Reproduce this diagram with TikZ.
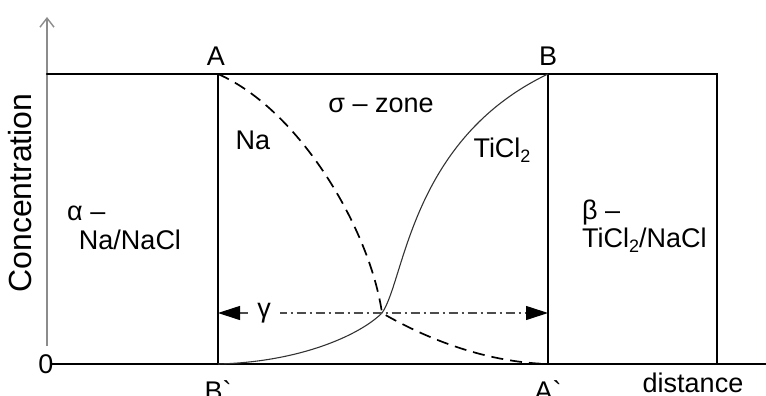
\documentclass[tikz,border=0pt]{standalone}
\usepackage{fontspec}
\setmainfont{Liberation Sans}
\usetikzlibrary{arrows.meta}
\newcommand{\subtwo}{\raisebox{-5pt}{\fontsize{18}{20}\selectfont 2}}
\begin{document}
\begin{tikzpicture}[x=1pt,y=-1pt,
  thickline/.style={line width=2.4pt, line cap=round},
  thinline/.style={line width=1.2pt},
  lbl/.style={inner sep=0pt, font=\fontsize{27}{32}\selectfont},
  axisline/.style={line width=1.6pt, draw=black!45},
  nacurve/.style={line width=1.7pt, dash pattern=on 12pt off 7pt},
  ticurve/.style={line width=1.1pt, draw=black!80},
  gline/.style={line width=1.1pt, draw=black!70, dash pattern=on 9pt off 4pt on 2pt off 4pt}
]
\useasboundingbox (0,0) rectangle (766,396);
% key points
\coordinate (A) at (218,74);
\coordinate (B) at (548,74);
\coordinate (Bp) at (218,364);
\coordinate (Ap) at (548,364);
\coordinate (Atop) at (47,74);
\coordinate (Rtop) at (717,74);
\coordinate (Rbot) at (717,364);
\coordinate (X) at (382,313);
\coordinate (gl) at (218,313);
\coordinate (gr) at (548,313);
\coordinate (axbot) at (47,346);
\coordinate (axtop) at (47,17);
\coordinate (basestart) at (52,364);
\coordinate (baseend) at (766,364);
% axis
\draw[axisline, -{Straight Barb[length=9pt,width=14pt,line width=1.4pt]}] (axbot) -- (axtop);
% boxes
\draw[thickline] (Atop) -- (A) -- (Bp);
\draw[thickline] (basestart) -- (Bp);
\draw[thickline] (B) -- (Rtop) -- (Rbot) -- (Ap) -- cycle;
% middle thin lines
\draw[thinline] (A) -- (B);
\draw[thinline] (Bp) -- (Ap);
\draw[thinline] (Rbot) -- (baseend);
% curves
\draw[nacurve] (A) .. controls (300,110) and (370,230) .. (X)
               .. controls (420,335) and (480,362) .. (Ap);
\draw[ticurve] (Bp) .. controls (300,362) and (360,335) .. (X)
               .. controls (405,280) and (410,140) .. (B);
% gamma
\draw[gline, {Triangle[length=22pt,width=14pt,color=black]}-{Triangle[length=22pt,width=14pt,color=black]}] (gl) -- (gr);
\node[lbl, fill=white, inner xsep=9pt, inner ysep=2pt] (gamma) at (264,313) {γ};
% labels
\node[lbl] (lA) at (216,56) {A};
\node[lbl] (lB) at (548,56) {B};
\node[lbl] (lBp) at (218,391) {B\textasciigrave};
\node[lbl] (lAp) at (548,391) {A\textasciigrave};
\node[lbl] (l0) at (46,364) {0};
\node[lbl] (ldist) at (693,383) {distance};
\node[lbl, rotate=90, font=\fontsize{32}{36}\selectfont] (lconc) at (20,193) {Concentration};
\node[lbl] (lNa) at (253,140) {Na};
\node[lbl] (lzone) at (381,105) {σ – zone};
\node[lbl] (lTi) at (502,150) {TiCl\subtwo};
\node[lbl, anchor=west] (lalpha) at (67,213) {α –};
\node[lbl] (lNaNaCl) at (130,240) {Na/NaCl};
\node[lbl, anchor=west] (lbeta) at (582,213) {β –};
\node[lbl, anchor=west] (lTiNaCl) at (582,240) {TiCl\subtwo/NaCl};
\end{tikzpicture}
\end{document}
